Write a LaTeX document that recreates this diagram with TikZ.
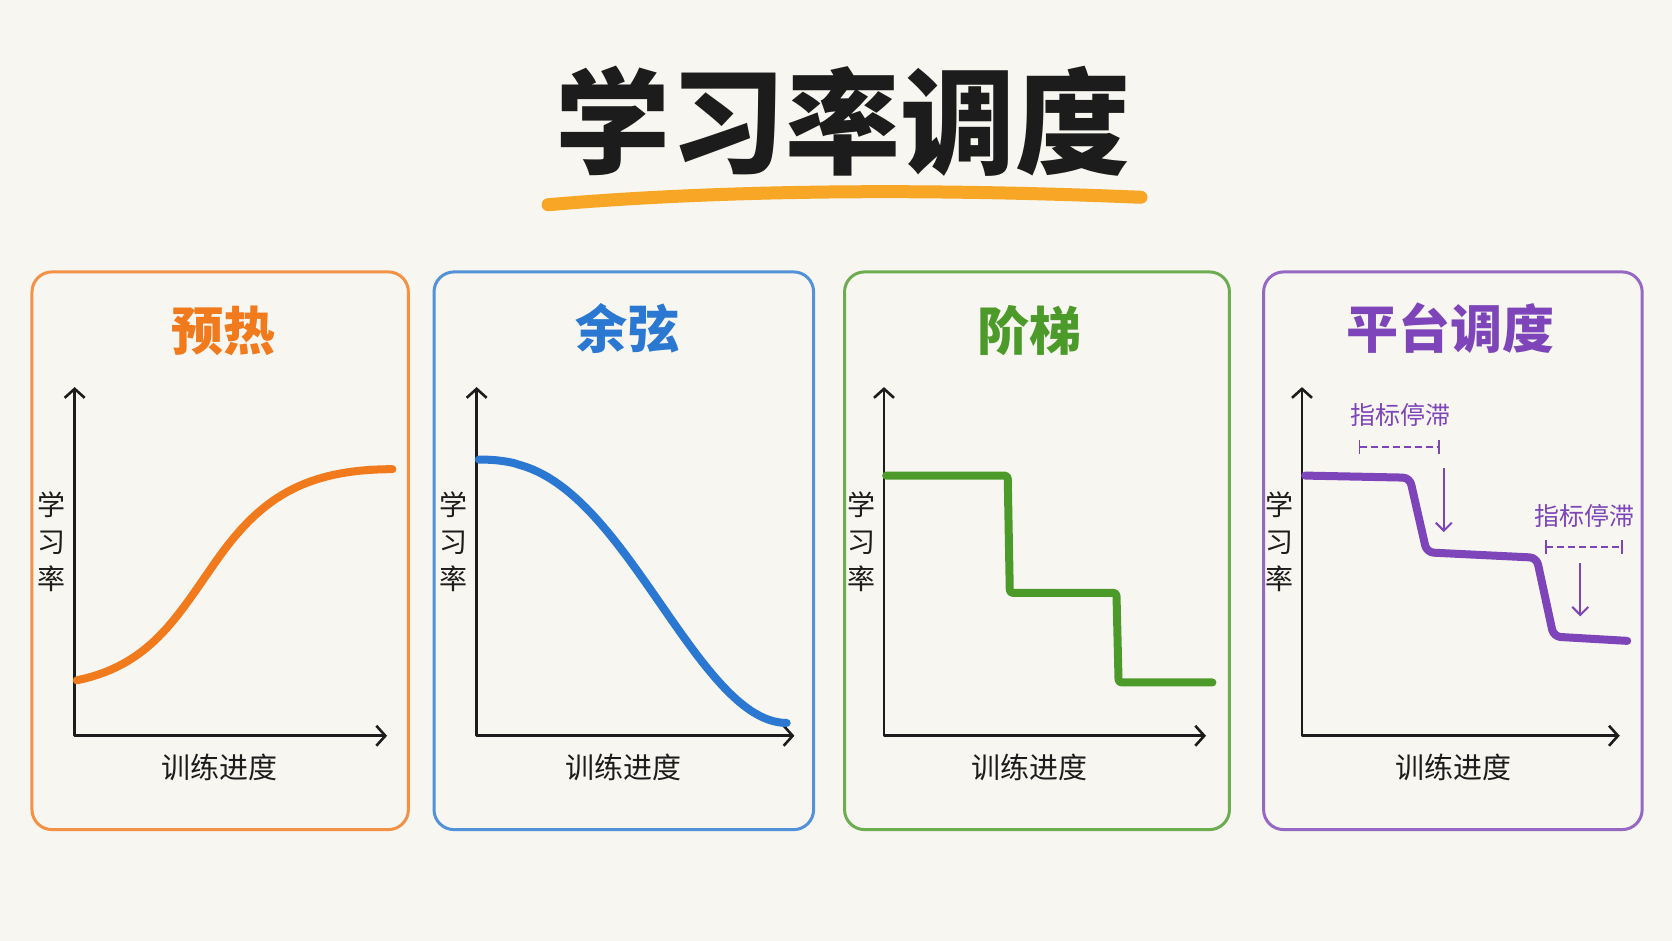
\documentclass[tikz,border=0pt]{standalone}
\usepackage{fontspec}
\newfontfamily\cjk{Noto Sans CJK SC}
\usepackage{tikz}
\usetikzlibrary{arrows.meta}

\definecolor{paper}{HTML}{F8F6F0}
\definecolor{ink}{HTML}{1C1C1C}
\definecolor{marker}{HTML}{F7A626}
\definecolor{warmup}{HTML}{F07A1C}
\definecolor{cosine}{HTML}{2A78D2}
\definecolor{stair}{HTML}{4C9A2A}
\definecolor{plateau}{HTML}{7D45B9}

\tikzset{
  card/.style={line width=3pt, rounded corners=20pt, opacity=.8},
  head/.style={font=\cjk\bfseries\fontsize{52}{56}\selectfont},
  axes/.style={ink, line width=2.6pt, line join=round,
    {Straight Barb[length=9pt,width=20pt,line width=2.6pt]}-{Straight Barb[length=9pt,width=20pt,line width=2.6pt]}},
  ylab/.style={font=\cjk\fontsize{28}{37}\selectfont, align=center, text=ink},
  xlab/.style={font=\cjk\fontsize{29}{32}\selectfont, text=ink},
  lr/.style={line width=8pt, line cap=round, line join=round},
  note/.style={font=\cjk\fontsize{25}{28}\selectfont, text=plateau},
  gap/.style={plateau, line width=1.8pt, dash pattern=on 7pt off 4pt,
    {Bar[width=14pt,line width=1.8pt]}-{Bar[width=14pt,line width=1.8pt]}},
  drop/.style={plateau, line width=2pt, -{Straight Barb[length=8pt,width=16pt,line width=2pt]}},
}

\begin{document}
\begin{tikzpicture}[x=1.0663pt, y=-1.0663pt]
\useasboundingbox (0,0) rectangle (1568,882);
\fill[paper] (0,0) rectangle (1568,882);

\node[font=\cjk\bfseries\fontsize{115}{120}\selectfont, text=ink] (T0) at (791,114) {学习率调度};
\draw[marker, line width=13pt, line cap=round] (514,192) .. controls (700,176) and (900,178) .. (1070,185);

% warm-up
\draw[card, warmup] (30,255) rectangle (383,778);
\node[head, text=warmup] (H1) at (210,310) {预热};
\coordinate (Y1) at (70,363);
\coordinate (X1) at (363,690);
\draw[axes] (Y1) |- (X1);
\node[ylab] (L1) at (48,508) {学\\习\\率};
\node[xlab] (E1) at (206,720) {训练进度};
\draw[lr, warmup] (72,638) .. controls (140,624) and (165,580) .. (200,530)
  .. controls (240,472) and (280,440) .. (368,440);

% cosine
\draw[card, cosine] (407,255) rectangle (763,778);
\node[head, text=cosine] (H2) at (588,308) {余弦};
\coordinate (Y2) at (447,363);
\coordinate (X2) at (745,690);
\draw[axes] (Y2) |- (X2);
\node[ylab] (L2) at (425,508) {学\\习\\率};
\node[xlab] (E2) at (585,720) {训练进度};
\draw[lr, cosine] plot[domain=0:1, samples=70] ({449+289*\x}, {431+247*(1-cos(180*\x^1.2))/2});

% step
\draw[card, stair] (792,255) rectangle (1153,778);
\node[head, text=stair] (H3) at (965,310) {阶梯};
\coordinate (Y3) at (829,363);
\coordinate (X3) at (1131,690);
\draw[axes] (Y3) |- (X3);
\node[ylab] (L3) at (808,508) {学\\习\\率};
\node[xlab] (E3) at (965,720) {训练进度};
\draw[lr, stair, rounded corners=3pt] (831,446) -- (945,446) -- (947,556) -- (1047,556) -- (1049,640) -- (1137,640);

% plateau
\draw[card, plateau] (1185,255) rectangle (1540,778);
\node[head, text=plateau] (H4) at (1360,308) {平台调度};
\coordinate (Y4) at (1221,363);
\coordinate (X4) at (1519,690);
\draw[axes] (Y4) |- (X4);
\node[ylab] (L4) at (1200,508) {学\\习\\率};
\node[xlab] (E4) at (1363,720) {训练进度};
\draw[lr, plateau, rounded corners=7pt] (1224,446) -- (1322,448) -- (1338,518) -- (1441,523) -- (1457,597) -- (1526,601);

\node[note] (N1) at (1313,389) {指标停滞};
\coordinate (A1) at (1274,419);
\coordinate (B1) at (1350,419);
\draw[gap] (A1) -- (B1);
\coordinate (C1) at (1354,439);
\coordinate (D1) at (1354,499);
\draw[drop] (C1) -- (D1);

\node[note] (N2) at (1486,484) {指标停滞};
\coordinate (A2) at (1449,513);
\coordinate (B2) at (1522,513);
\draw[gap] (A2) -- (B2);
\coordinate (C2) at (1482,528);
\coordinate (D2) at (1482,578);
\draw[drop] (C2) -- (D2);
\end{tikzpicture}
\end{document}
